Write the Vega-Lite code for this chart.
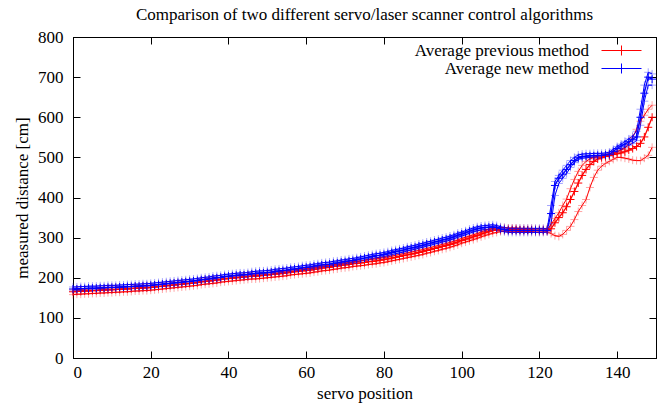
{
  "$schema": "https://vega.github.io/schema/vega-lite/v6.json",
  "width": 583,
  "height": 321,
  "autosize": {"type": "none"},
  "padding": {"left": 73, "top": 37, "right": 1, "bottom": 47},
  "title": {"text": "Comparison of two different servo/laser scanner control algorithms", "font": "Liberation Serif", "fontSize": 17, "fontWeight": "normal", "color": "black", "offset": 4, "anchor": "middle"},
  "config": {
    "view": {"stroke": "black", "strokeWidth": 1},
    "axis": {"labelFont": "Liberation Serif", "labelFontSize": 17, "labelColor": "black", "titleFont": "Liberation Serif", "titleFontSize": 17, "titleFontWeight": "normal", "titleColor": "black", "domainColor": "black", "tickColor": "black", "grid": false, "tickSize": -7}
  },
  "data": {"values": [
{"pos":0,"method":"previous","avg":165,"low":158,"high":170},
{"pos":1,"method":"previous","avg":166,"low":159,"high":171},
{"pos":2,"method":"previous","avg":166,"low":159,"high":171},
{"pos":3,"method":"previous","avg":167,"low":160,"high":172},
{"pos":4,"method":"previous","avg":167,"low":160,"high":172},
{"pos":5,"method":"previous","avg":168,"low":161,"high":173},
{"pos":6,"method":"previous","avg":168,"low":161,"high":173},
{"pos":7,"method":"previous","avg":169,"low":162,"high":174},
{"pos":8,"method":"previous","avg":169,"low":162,"high":174},
{"pos":9,"method":"previous","avg":170,"low":163,"high":175},
{"pos":10,"method":"previous","avg":170,"low":163,"high":175},
{"pos":11,"method":"previous","avg":171,"low":164,"high":176},
{"pos":12,"method":"previous","avg":171,"low":164,"high":176},
{"pos":13,"method":"previous","avg":172,"low":165,"high":177},
{"pos":14,"method":"previous","avg":172,"low":165,"high":177},
{"pos":15,"method":"previous","avg":173,"low":166,"high":178},
{"pos":16,"method":"previous","avg":174,"low":167,"high":179},
{"pos":17,"method":"previous","avg":174,"low":167,"high":179},
{"pos":18,"method":"previous","avg":175,"low":168,"high":180},
{"pos":19,"method":"previous","avg":175,"low":168,"high":180},
{"pos":20,"method":"previous","avg":176,"low":169,"high":181},
{"pos":21,"method":"previous","avg":177,"low":170,"high":182},
{"pos":22,"method":"previous","avg":178,"low":171,"high":183},
{"pos":23,"method":"previous","avg":179,"low":172,"high":184},
{"pos":24,"method":"previous","avg":180,"low":173,"high":185},
{"pos":25,"method":"previous","avg":181,"low":174,"high":186},
{"pos":26,"method":"previous","avg":182,"low":175,"high":187},
{"pos":27,"method":"previous","avg":183,"low":176,"high":188},
{"pos":28,"method":"previous","avg":184,"low":177,"high":189},
{"pos":29,"method":"previous","avg":185,"low":178,"high":190},
{"pos":30,"method":"previous","avg":186,"low":179,"high":191},
{"pos":31,"method":"previous","avg":187,"low":180,"high":192},
{"pos":32,"method":"previous","avg":188,"low":181,"high":193},
{"pos":33,"method":"previous","avg":190,"low":183,"high":195},
{"pos":34,"method":"previous","avg":191,"low":184,"high":196},
{"pos":35,"method":"previous","avg":192,"low":185,"high":197},
{"pos":36,"method":"previous","avg":193,"low":186,"high":198},
{"pos":37,"method":"previous","avg":194,"low":187,"high":199},
{"pos":38,"method":"previous","avg":196,"low":189,"high":201},
{"pos":39,"method":"previous","avg":197,"low":190,"high":202},
{"pos":40,"method":"previous","avg":198,"low":191,"high":203},
{"pos":41,"method":"previous","avg":199,"low":192,"high":204},
{"pos":42,"method":"previous","avg":200,"low":193,"high":205},
{"pos":43,"method":"previous","avg":201,"low":194,"high":206},
{"pos":44,"method":"previous","avg":202,"low":195,"high":207},
{"pos":45,"method":"previous","avg":203,"low":196,"high":208},
{"pos":46,"method":"previous","avg":204,"low":197,"high":209},
{"pos":47,"method":"previous","avg":204,"low":197,"high":209},
{"pos":48,"method":"previous","avg":205,"low":198,"high":210},
{"pos":49,"method":"previous","avg":206,"low":199,"high":211},
{"pos":50,"method":"previous","avg":207,"low":200,"high":212},
{"pos":51,"method":"previous","avg":208,"low":201,"high":213},
{"pos":52,"method":"previous","avg":209,"low":202,"high":214},
{"pos":53,"method":"previous","avg":210,"low":203,"high":215},
{"pos":54,"method":"previous","avg":211,"low":204,"high":216},
{"pos":55,"method":"previous","avg":212,"low":205,"high":217},
{"pos":56,"method":"previous","avg":214,"low":207,"high":219},
{"pos":57,"method":"previous","avg":215,"low":208,"high":220},
{"pos":58,"method":"previous","avg":216,"low":209,"high":221},
{"pos":59,"method":"previous","avg":217,"low":210,"high":222},
{"pos":60,"method":"previous","avg":218,"low":211,"high":223},
{"pos":61,"method":"previous","avg":219,"low":212,"high":224},
{"pos":62,"method":"previous","avg":221,"low":214,"high":226},
{"pos":63,"method":"previous","avg":222,"low":215,"high":227},
{"pos":64,"method":"previous","avg":224,"low":217,"high":229},
{"pos":65,"method":"previous","avg":225,"low":218,"high":230},
{"pos":66,"method":"previous","avg":226,"low":219,"high":231},
{"pos":67,"method":"previous","avg":228,"low":221,"high":233},
{"pos":68,"method":"previous","avg":229,"low":222,"high":234},
{"pos":69,"method":"previous","avg":231,"low":224,"high":236},
{"pos":70,"method":"previous","avg":232,"low":225,"high":237},
{"pos":71,"method":"previous","avg":233,"low":226,"high":238},
{"pos":72,"method":"previous","avg":235,"low":228,"high":240},
{"pos":73,"method":"previous","avg":236,"low":229,"high":241},
{"pos":74,"method":"previous","avg":237,"low":230,"high":242},
{"pos":75,"method":"previous","avg":238,"low":231,"high":243},
{"pos":76,"method":"previous","avg":240,"low":233,"high":245},
{"pos":77,"method":"previous","avg":241,"low":234,"high":246},
{"pos":78,"method":"previous","avg":242,"low":235,"high":247},
{"pos":79,"method":"previous","avg":244,"low":237,"high":249},
{"pos":80,"method":"previous","avg":245,"low":238,"high":250},
{"pos":81,"method":"previous","avg":247,"low":240,"high":252},
{"pos":82,"method":"previous","avg":249,"low":242,"high":254},
{"pos":83,"method":"previous","avg":251,"low":244,"high":256},
{"pos":84,"method":"previous","avg":253,"low":246,"high":258},
{"pos":85,"method":"previous","avg":255,"low":248,"high":260},
{"pos":86,"method":"previous","avg":257,"low":250,"high":262},
{"pos":87,"method":"previous","avg":259,"low":252,"high":264},
{"pos":88,"method":"previous","avg":261,"low":254,"high":266},
{"pos":89,"method":"previous","avg":263,"low":256,"high":268},
{"pos":90,"method":"previous","avg":265,"low":258,"high":270},
{"pos":91,"method":"previous","avg":268,"low":261,"high":273},
{"pos":92,"method":"previous","avg":270,"low":263,"high":275},
{"pos":93,"method":"previous","avg":273,"low":266,"high":278},
{"pos":94,"method":"previous","avg":275,"low":268,"high":280},
{"pos":95,"method":"previous","avg":278,"low":271,"high":283},
{"pos":96,"method":"previous","avg":280,"low":273,"high":285},
{"pos":97,"method":"previous","avg":283,"low":276,"high":288},
{"pos":98,"method":"previous","avg":286,"low":279,"high":291},
{"pos":99,"method":"previous","avg":289,"low":282,"high":294},
{"pos":100,"method":"previous","avg":293,"low":286,"high":298},
{"pos":101,"method":"previous","avg":296,"low":289,"high":301},
{"pos":102,"method":"previous","avg":299,"low":292,"high":304},
{"pos":103,"method":"previous","avg":302,"low":295,"high":307},
{"pos":104,"method":"previous","avg":305,"low":298,"high":310},
{"pos":105,"method":"previous","avg":309,"low":302,"high":314},
{"pos":106,"method":"previous","avg":312,"low":305,"high":317},
{"pos":107,"method":"previous","avg":315,"low":308,"high":320},
{"pos":108,"method":"previous","avg":318,"low":311,"high":323},
{"pos":109,"method":"previous","avg":319,"low":313,"high":324},
{"pos":110,"method":"previous","avg":320,"low":315,"high":325},
{"pos":111,"method":"previous","avg":320,"low":316,"high":325},
{"pos":112,"method":"previous","avg":320,"low":316,"high":324},
{"pos":113,"method":"previous","avg":320,"low":316,"high":324},
{"pos":114,"method":"previous","avg":320,"low":316,"high":324},
{"pos":115,"method":"previous","avg":319,"low":315,"high":323},
{"pos":116,"method":"previous","avg":319,"low":315,"high":323},
{"pos":117,"method":"previous","avg":319,"low":315,"high":323},
{"pos":118,"method":"previous","avg":319,"low":315,"high":323},
{"pos":119,"method":"previous","avg":318,"low":314,"high":322},
{"pos":120,"method":"previous","avg":318,"low":314,"high":322},
{"pos":121,"method":"previous","avg":318,"low":314,"high":322},
{"pos":122,"method":"previous","avg":318,"low":315,"high":321},
{"pos":123,"method":"previous","avg":322,"low":310,"high":332},
{"pos":124,"method":"previous","avg":337,"low":305,"high":348},
{"pos":125,"method":"previous","avg":350,"low":303,"high":362},
{"pos":126,"method":"previous","avg":362,"low":308,"high":380},
{"pos":127,"method":"previous","avg":377,"low":318,"high":396},
{"pos":128,"method":"previous","avg":395,"low":328,"high":422},
{"pos":129,"method":"previous","avg":415,"low":345,"high":445},
{"pos":130,"method":"previous","avg":436,"low":365,"high":465},
{"pos":131,"method":"previous","avg":455,"low":380,"high":480},
{"pos":132,"method":"previous","avg":470,"low":395,"high":490},
{"pos":133,"method":"previous","avg":482,"low":425,"high":496},
{"pos":134,"method":"previous","avg":490,"low":450,"high":500},
{"pos":135,"method":"previous","avg":496,"low":468,"high":503},
{"pos":136,"method":"previous","avg":499,"low":478,"high":505},
{"pos":137,"method":"previous","avg":502,"low":485,"high":507},
{"pos":138,"method":"previous","avg":505,"low":490,"high":509},
{"pos":139,"method":"previous","avg":507,"low":495,"high":511},
{"pos":140,"method":"previous","avg":509,"low":500,"high":514},
{"pos":141,"method":"previous","avg":511,"low":500,"high":518},
{"pos":142,"method":"previous","avg":514,"low":498,"high":523},
{"pos":143,"method":"previous","avg":518,"low":496,"high":535},
{"pos":144,"method":"previous","avg":522,"low":493,"high":550},
{"pos":145,"method":"previous","avg":527,"low":492,"high":570},
{"pos":146,"method":"previous","avg":535,"low":492,"high":590},
{"pos":147,"method":"previous","avg":551,"low":498,"high":605},
{"pos":148,"method":"previous","avg":575,"low":505,"high":620},
{"pos":149,"method":"previous","avg":600,"low":525,"high":630},
{"pos":0,"method":"new","avg":172,"low":167,"high":177},
{"pos":1,"method":"new","avg":172,"low":167,"high":177},
{"pos":2,"method":"new","avg":173,"low":168,"high":178},
{"pos":3,"method":"new","avg":173,"low":168,"high":178},
{"pos":4,"method":"new","avg":174,"low":169,"high":179},
{"pos":5,"method":"new","avg":174,"low":169,"high":179},
{"pos":6,"method":"new","avg":174,"low":169,"high":179},
{"pos":7,"method":"new","avg":175,"low":170,"high":180},
{"pos":8,"method":"new","avg":175,"low":170,"high":180},
{"pos":9,"method":"new","avg":176,"low":171,"high":181},
{"pos":10,"method":"new","avg":176,"low":171,"high":181},
{"pos":11,"method":"new","avg":176,"low":171,"high":181},
{"pos":12,"method":"new","avg":177,"low":172,"high":182},
{"pos":13,"method":"new","avg":177,"low":172,"high":182},
{"pos":14,"method":"new","avg":178,"low":173,"high":183},
{"pos":15,"method":"new","avg":178,"low":173,"high":183},
{"pos":16,"method":"new","avg":179,"low":174,"high":184},
{"pos":17,"method":"new","avg":179,"low":174,"high":184},
{"pos":18,"method":"new","avg":180,"low":175,"high":185},
{"pos":19,"method":"new","avg":180,"low":175,"high":185},
{"pos":20,"method":"new","avg":181,"low":176,"high":186},
{"pos":21,"method":"new","avg":182,"low":177,"high":187},
{"pos":22,"method":"new","avg":183,"low":178,"high":188},
{"pos":23,"method":"new","avg":184,"low":179,"high":189},
{"pos":24,"method":"new","avg":185,"low":180,"high":190},
{"pos":25,"method":"new","avg":186,"low":181,"high":191},
{"pos":26,"method":"new","avg":187,"low":182,"high":192},
{"pos":27,"method":"new","avg":188,"low":183,"high":193},
{"pos":28,"method":"new","avg":189,"low":184,"high":194},
{"pos":29,"method":"new","avg":190,"low":185,"high":195},
{"pos":30,"method":"new","avg":191,"low":186,"high":196},
{"pos":31,"method":"new","avg":192,"low":187,"high":197},
{"pos":32,"method":"new","avg":193,"low":188,"high":198},
{"pos":33,"method":"new","avg":195,"low":190,"high":200},
{"pos":34,"method":"new","avg":196,"low":191,"high":201},
{"pos":35,"method":"new","avg":197,"low":192,"high":202},
{"pos":36,"method":"new","avg":199,"low":194,"high":204},
{"pos":37,"method":"new","avg":200,"low":195,"high":205},
{"pos":38,"method":"new","avg":201,"low":196,"high":206},
{"pos":39,"method":"new","avg":203,"low":198,"high":208},
{"pos":40,"method":"new","avg":204,"low":199,"high":209},
{"pos":41,"method":"new","avg":205,"low":200,"high":210},
{"pos":42,"method":"new","avg":206,"low":201,"high":211},
{"pos":43,"method":"new","avg":207,"low":202,"high":212},
{"pos":44,"method":"new","avg":207,"low":202,"high":212},
{"pos":45,"method":"new","avg":208,"low":203,"high":213},
{"pos":46,"method":"new","avg":210,"low":205,"high":215},
{"pos":47,"method":"new","avg":211,"low":206,"high":216},
{"pos":48,"method":"new","avg":212,"low":207,"high":217},
{"pos":49,"method":"new","avg":212,"low":207,"high":217},
{"pos":50,"method":"new","avg":213,"low":208,"high":218},
{"pos":51,"method":"new","avg":214,"low":209,"high":219},
{"pos":52,"method":"new","avg":216,"low":211,"high":221},
{"pos":53,"method":"new","avg":217,"low":212,"high":222},
{"pos":54,"method":"new","avg":218,"low":213,"high":223},
{"pos":55,"method":"new","avg":219,"low":214,"high":224},
{"pos":56,"method":"new","avg":221,"low":216,"high":226},
{"pos":57,"method":"new","avg":222,"low":217,"high":227},
{"pos":58,"method":"new","avg":223,"low":218,"high":228},
{"pos":59,"method":"new","avg":225,"low":220,"high":230},
{"pos":60,"method":"new","avg":226,"low":221,"high":231},
{"pos":61,"method":"new","avg":227,"low":222,"high":232},
{"pos":62,"method":"new","avg":229,"low":224,"high":234},
{"pos":63,"method":"new","avg":230,"low":225,"high":235},
{"pos":64,"method":"new","avg":232,"low":227,"high":237},
{"pos":65,"method":"new","avg":233,"low":228,"high":238},
{"pos":66,"method":"new","avg":234,"low":229,"high":239},
{"pos":67,"method":"new","avg":236,"low":231,"high":241},
{"pos":68,"method":"new","avg":237,"low":232,"high":242},
{"pos":69,"method":"new","avg":239,"low":234,"high":244},
{"pos":70,"method":"new","avg":240,"low":235,"high":245},
{"pos":71,"method":"new","avg":242,"low":237,"high":247},
{"pos":72,"method":"new","avg":243,"low":238,"high":248},
{"pos":73,"method":"new","avg":245,"low":240,"high":250},
{"pos":74,"method":"new","avg":247,"low":242,"high":252},
{"pos":75,"method":"new","avg":249,"low":244,"high":254},
{"pos":76,"method":"new","avg":251,"low":246,"high":256},
{"pos":77,"method":"new","avg":253,"low":248,"high":258},
{"pos":78,"method":"new","avg":255,"low":250,"high":260},
{"pos":79,"method":"new","avg":256,"low":251,"high":261},
{"pos":80,"method":"new","avg":258,"low":253,"high":263},
{"pos":81,"method":"new","avg":260,"low":255,"high":265},
{"pos":82,"method":"new","avg":263,"low":258,"high":268},
{"pos":83,"method":"new","avg":265,"low":260,"high":270},
{"pos":84,"method":"new","avg":267,"low":262,"high":272},
{"pos":85,"method":"new","avg":269,"low":264,"high":274},
{"pos":86,"method":"new","avg":272,"low":267,"high":277},
{"pos":87,"method":"new","avg":274,"low":269,"high":279},
{"pos":88,"method":"new","avg":276,"low":271,"high":281},
{"pos":89,"method":"new","avg":279,"low":274,"high":284},
{"pos":90,"method":"new","avg":281,"low":276,"high":286},
{"pos":91,"method":"new","avg":284,"low":279,"high":289},
{"pos":92,"method":"new","avg":286,"low":281,"high":291},
{"pos":93,"method":"new","avg":289,"low":284,"high":294},
{"pos":94,"method":"new","avg":291,"low":286,"high":296},
{"pos":95,"method":"new","avg":294,"low":289,"high":299},
{"pos":96,"method":"new","avg":296,"low":291,"high":301},
{"pos":97,"method":"new","avg":299,"low":294,"high":304},
{"pos":98,"method":"new","avg":302,"low":297,"high":307},
{"pos":99,"method":"new","avg":306,"low":301,"high":311},
{"pos":100,"method":"new","avg":309,"low":304,"high":314},
{"pos":101,"method":"new","avg":312,"low":307,"high":317},
{"pos":102,"method":"new","avg":316,"low":311,"high":321},
{"pos":103,"method":"new","avg":319,"low":314,"high":324},
{"pos":104,"method":"new","avg":322,"low":317,"high":327},
{"pos":105,"method":"new","avg":324,"low":319,"high":329},
{"pos":106,"method":"new","avg":325,"low":320,"high":330},
{"pos":107,"method":"new","avg":326,"low":321,"high":331},
{"pos":108,"method":"new","avg":327,"low":322,"high":332},
{"pos":109,"method":"new","avg":325,"low":320,"high":330},
{"pos":110,"method":"new","avg":322,"low":317,"high":327},
{"pos":111,"method":"new","avg":320,"low":315,"high":325},
{"pos":112,"method":"new","avg":318,"low":313,"high":323},
{"pos":113,"method":"new","avg":318,"low":313,"high":323},
{"pos":114,"method":"new","avg":318,"low":313,"high":323},
{"pos":115,"method":"new","avg":318,"low":313,"high":323},
{"pos":116,"method":"new","avg":318,"low":313,"high":323},
{"pos":117,"method":"new","avg":318,"low":313,"high":323},
{"pos":118,"method":"new","avg":318,"low":313,"high":323},
{"pos":119,"method":"new","avg":318,"low":313,"high":323},
{"pos":120,"method":"new","avg":318,"low":313,"high":323},
{"pos":121,"method":"new","avg":318,"low":313,"high":323},
{"pos":122,"method":"new","avg":318,"low":314,"high":322},
{"pos":123,"method":"new","avg":360,"low":335,"high":380},
{"pos":124,"method":"new","avg":430,"low":405,"high":440},
{"pos":125,"method":"new","avg":448,"low":435,"high":455},
{"pos":126,"method":"new","avg":458,"low":448,"high":468},
{"pos":127,"method":"new","avg":470,"low":460,"high":480},
{"pos":128,"method":"new","avg":482,"low":475,"high":492},
{"pos":129,"method":"new","avg":492,"low":487,"high":500},
{"pos":130,"method":"new","avg":499,"low":495,"high":506},
{"pos":131,"method":"new","avg":502,"low":498,"high":508},
{"pos":132,"method":"new","avg":503,"low":499,"high":509},
{"pos":133,"method":"new","avg":504,"low":500,"high":509},
{"pos":134,"method":"new","avg":504,"low":500,"high":510},
{"pos":135,"method":"new","avg":505,"low":501,"high":510},
{"pos":136,"method":"new","avg":505,"low":501,"high":510},
{"pos":137,"method":"new","avg":506,"low":502,"high":511},
{"pos":138,"method":"new","avg":508,"low":503,"high":513},
{"pos":139,"method":"new","avg":515,"low":508,"high":520},
{"pos":140,"method":"new","avg":522,"low":514,"high":527},
{"pos":141,"method":"new","avg":528,"low":520,"high":533},
{"pos":142,"method":"new","avg":533,"low":525,"high":540},
{"pos":143,"method":"new","avg":539,"low":530,"high":546},
{"pos":144,"method":"new","avg":545,"low":535,"high":553},
{"pos":145,"method":"new","avg":551,"low":542,"high":565},
{"pos":146,"method":"new","avg":600,"low":580,"high":620},
{"pos":147,"method":"new","avg":660,"low":640,"high":680},
{"pos":148,"method":"new","avg":700,"low":680,"high":712},
{"pos":149,"method":"new","avg":695,"low":680,"high":708}
  ]},
  "encoding": {
    "x": {"field": "pos", "type": "quantitative", "scale": {"domain": [0, 150], "nice": false}, "axis": null},
    "color": {"field": "method", "type": "nominal", "scale": {"domain": ["previous", "new"], "range": ["#ff0000", "#0000ff"]},
      "legend": {"orient": "none", "legendX": 540, "legendY": 5, "title": null, "symbolType": "M-4,0L4,0M0,-1L0,1", "symbolSize": 100, "symbolStrokeWidth": 1, "symbolOpacity": 1, "labelAlign": "right", "labelOffset": -41, "labelFont": "Liberation Serif", "labelFontSize": 17, "labelColor": "black", "rowPadding": 0, "padding": 0, "labelLimit": 400,
        "labelExpr": "datum.label == 'previous' ? 'Average previous method' : 'Average new method'"}}
  },
  "layer": [
    {"mark": {"type": "line", "strokeWidth": 1, "opacity": 1}, "encoding": {"y": {"field": "low", "type": "quantitative", "scale": {"domain": [0, 800], "nice": false}, "axis": null}}},
    {"mark": {"type": "line", "strokeWidth": 1, "opacity": 1}, "encoding": {"y": {"field": "high", "type": "quantitative", "axis": null}}},
    {"mark": {"type": "point", "shape": "M-1,0L1,0M0,-1L0,1", "size": 64, "filled": false, "strokeWidth": 1, "opacity": 0.35}, "encoding": {"y": {"field": "low", "type": "quantitative", "axis": null}}},
    {"mark": {"type": "point", "shape": "M-1,0L1,0M0,-1L0,1", "size": 64, "filled": false, "strokeWidth": 1, "opacity": 0.35}, "encoding": {"y": {"field": "high", "type": "quantitative", "axis": null}}},
    {"mark": {"type": "line", "strokeWidth": 1.3}, "encoding": {
      "x": {"field": "pos", "type": "quantitative", "axis": {"orient": "bottom", "values": [0, 20, 40, 60, 80, 100, 120, 140], "title": "servo position", "titlePadding": 5, "labelPadding": 13}},
      "y": {"field": "avg", "type": "quantitative", "axis": {"orient": "left", "values": [0, 100, 200, 300, 400, 500, 600, 700, 800], "title": "measured distance [cm]", "titlePadding": 6, "labelPadding": 17}}}},
    {"mark": {"type": "point", "shape": "M-1,0L1,0M0,-1L0,1", "size": 64, "filled": false, "strokeWidth": 1, "opacity": 1}, "encoding": {
      "x": {"field": "pos", "type": "quantitative", "axis": {"orient": "top", "values": [0, 20, 40, 60, 80, 100, 120, 140], "labels": false, "title": null}},
      "y": {"field": "avg", "type": "quantitative", "axis": {"orient": "right", "values": [0, 100, 200, 300, 400, 500, 600, 700, 800], "labels": false, "title": null}}}}
  ],
  "resolve": {"axis": {"x": "independent", "y": "independent"}}
}
